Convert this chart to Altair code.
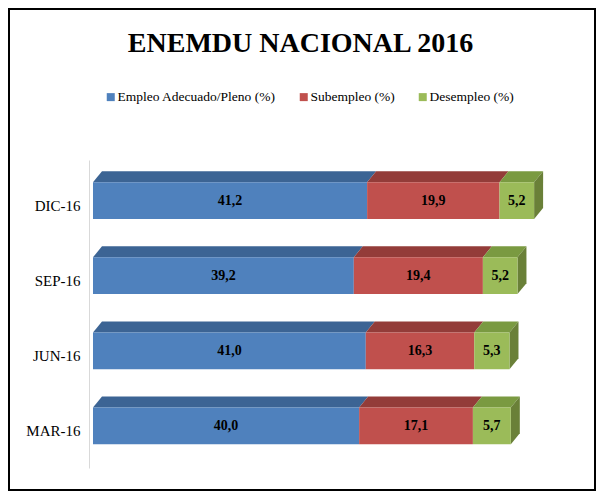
import altair as alt
import pandas as pd

periods = ["DIC-16", "SEP-16", "JUN-16", "MAR-16"]
series = ["Empleo Adecuado/Pleno (%)", "Subempleo (%)", "Desempleo (%)"]
adecuado = [41.2, 39.2, 41.0, 40.0]
subempleo = [19.9, 19.4, 16.3, 17.1]
desempleo = [5.2, 5.2, 5.3, 5.7]

front_colors = ["#4F81BD", "#C0504D", "#9BBB59"]
top_colors = ["#3C6494", "#933C39", "#7A9A41"]
side_color = "#6A8038"

HALF = 0.245   # half thickness of the front face (band units)
DX = 1.35      # 3-D depth along x (value units)
DY = 0.146     # 3-D depth along y (band units)

front_rows, face_rows = [], []
for i, p in enumerate(periods):
    vals = [adecuado[i], subempleo[i], desempleo[i]]
    c = i + 0.5
    yt, yb = c - HALF, c + HALF
    start = 0.0
    for k, (s, v) in enumerate(zip(series, vals)):
        end = start + v
        front_rows.append(dict(period=p, serie=s, x0=start, x1=end, y0=yt, y1=yb,
                               yc=c, xm=(start + end) / 2,
                               label=f"{v:.1f}".replace(".", ",")))
        pid = f"t{i}-{k}"
        pts = [(start, yt), (end, yt), (end + DX, yt - DY), (start + DX, yt - DY)]
        for o, (px, py) in enumerate(pts):
            face_rows.append(dict(pid=pid, col=top_colors[k], ord=o, px=px, py=py))
        start = end
    pid = f"s{i}"
    pts = [(start, yt), (start + DX, yt - DY), (start + DX, yb - DY), (start, yb)]
    for o, (px, py) in enumerate(pts):
        face_rows.append(dict(pid=pid, col=side_color, ord=o, px=px, py=py))

front = pd.DataFrame(front_rows)
faces = pd.DataFrame(face_rows)

xs = alt.Scale(domain=[-0.6, 75], nice=False, zero=False)
ys = alt.Scale(domain=[-0.04, 4.06], reverse=True, nice=False, zero=False)

yaxis = alt.Axis(values=[0.5, 1.5, 2.5, 3.5],
                 labelExpr=f"{periods}[floor(datum.value)]",
                 title=None, ticks=False, grid=False, domainColor="#D9D9D9",
                 domainWidth=1, labelFont="Liberation Serif", labelFontSize=15,
                 labelColor="#000000", labelPadding=9, labelOffset=5)

face_layer = alt.Chart(faces).mark_line(filled=True, strokeWidth=0).encode(
    x=alt.X("px:Q", scale=xs, axis=None),
    y=alt.Y("py:Q", scale=ys, axis=yaxis),
    detail="pid:N",
    order="ord:Q",
    fill=alt.Fill("col:N", scale=None),
)

front_layer = alt.Chart(front).mark_bar().encode(
    x=alt.X("x0:Q", scale=xs, axis=None, stack=None),
    x2="x1:Q",
    y=alt.Y("y0:Q", scale=ys, axis=yaxis),
    y2="y1:Q",
    color=alt.Color("serie:N", scale=alt.Scale(domain=series, range=front_colors),
                    legend=alt.Legend(orient="none", legendX=15, legendY=-70,
                                      direction="horizontal", title=None,
                                      symbolType="square", symbolSize=64,
                                      symbolStrokeWidth=0,
                                      labelFont="Liberation Serif", labelFontSize=13.5,
                                      labelColor="#000000", columnPadding=21,
                                      labelOffset=0, padding=0, labelLimit=0)),
)

text_layer = alt.Chart(front).mark_text(font="Liberation Serif", fontWeight="bold",
                                        fontSize=14, color="#000000").encode(
    x=alt.X("xm:Q", scale=xs, axis=None),
    y=alt.Y("yc:Q", scale=ys, axis=yaxis),
    text="label:N",
)

border = alt.Chart(pd.DataFrame({"k": [0]})).mark_rect(
    filled=False, stroke="#000000", strokeWidth=2).encode(
    x=alt.value(-80), x2=alt.value(506), y=alt.value(-151), y2=alt.value(330))

chart = alt.layer(face_layer, front_layer, text_layer, border).properties(
    width=503, height=308,
    title=alt.TitleParams("ENEMDU NACIONAL 2016", font="Liberation Serif", fontSize=28,
                          fontWeight="bold", color="#000000", anchor="middle",
                          dx=-40, dy=54),
    padding={"left": 81, "top": 152, "right": 4, "bottom": 23},
    autosize=alt.AutoSizeParams(type="none"),
).configure_view(stroke=None)

chart.save("out.html", embed_options={"renderer": "svg", "actions": False})
